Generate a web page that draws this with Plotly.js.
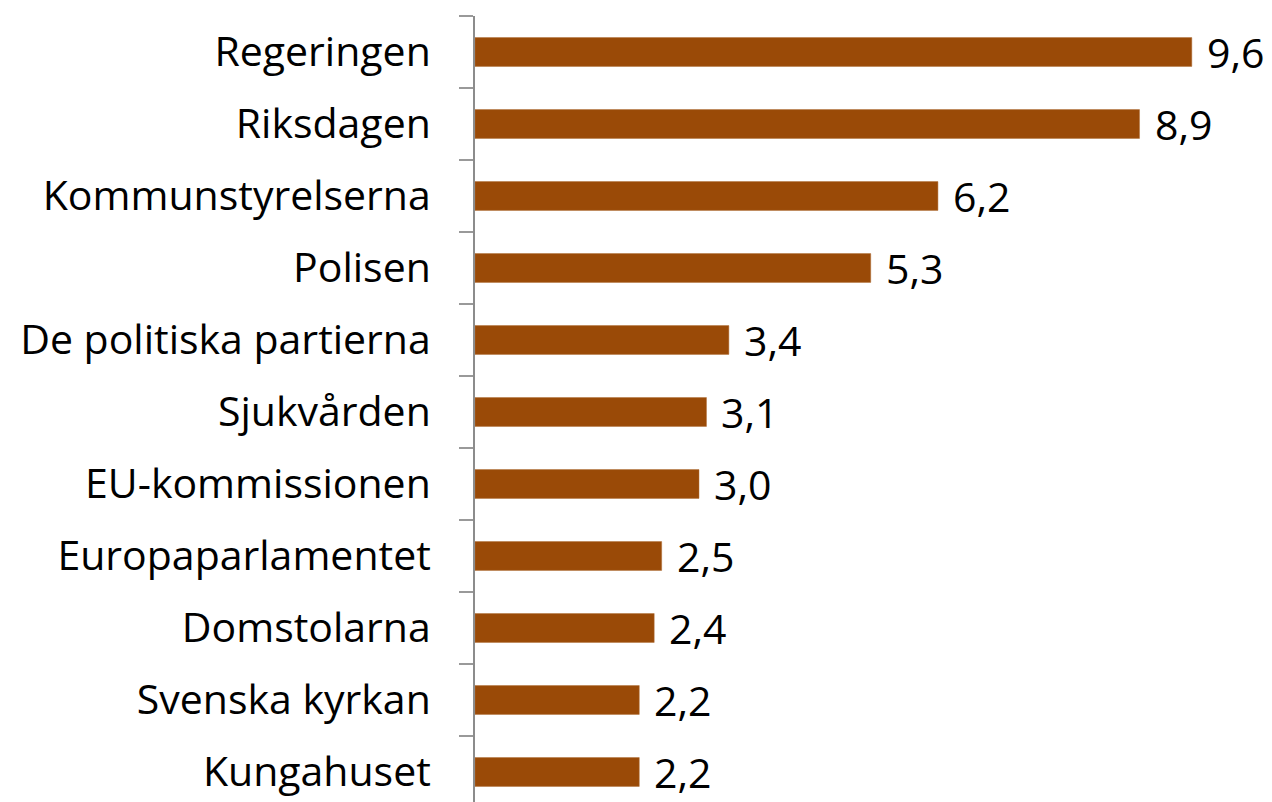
<!DOCTYPE html>
<html><head><meta charset="utf-8">
<script src="https://cdn.plot.ly/plotly-3.0.1.min.js"></script>
<style>html,body{margin:0;padding:0;background:#fff}#chart{width:1272px;height:802px}</style>
</head><body><div id="chart"></div>
<script>
const categories = ["Regeringen","Riksdagen","Kommunstyrelserna","Polisen","De politiska partierna","Sjukvården","EU-kommissionen","Europaparlamentet","Domstolarna","Svenska kyrkan","Kungahuset"];
const values = [9.6, 8.9, 6.2, 5.3, 3.4, 3.1, 3.0, 2.5, 2.4, 2.2, 2.2];
const labels = values.map(v => v.toFixed(1).replace('.', ','));

const FONT = "Open Sans, Liberation Sans, sans-serif";
const trace = {
  type: 'bar', orientation: 'h',
  x: values, y: categories,
  marker: {color: '#9A4A07', line: {color: '#b0703a', width: 0.5}},
  width: 0.4,
  hoverinfo: 'none'
};
const annotations = categories.map((c, i) => ({
  x: values[i], y: c, xref: 'x', yref: 'y', text: labels[i],
  showarrow: false, xanchor: 'left', xshift: 13,
  font: {family: FONT, size: 41, color: '#000'}
}));
const layout = {
  width: 1272, height: 802,
  margin: {l: 475, r: 13, t: 16, b: 0},
  paper_bgcolor: '#fff', plot_bgcolor: '#fff',
  showlegend: false,
  xaxis: {range: [0, 10.5], visible: false, fixedrange: true},
  yaxis: {
    type: 'category', categoryorder: 'array', categoryarray: categories,
    range: [10.417, -0.5],
    showline: true, linecolor: '#8c8c8c', linewidth: 2,
    ticks: 'outside', tickson: 'boundaries', ticklen: 14, tickwidth: 2, tickcolor: '#999',
    showgrid: false, zeroline: false,
    ticklabelstandoff: 34,
    tickfont: {family: FONT, size: 41, color: '#000'}
  },
  annotations: annotations
};
Plotly.newPlot('chart', [trace], layout, {staticPlot: true, displayModeBar: false});
</script></body></html>
